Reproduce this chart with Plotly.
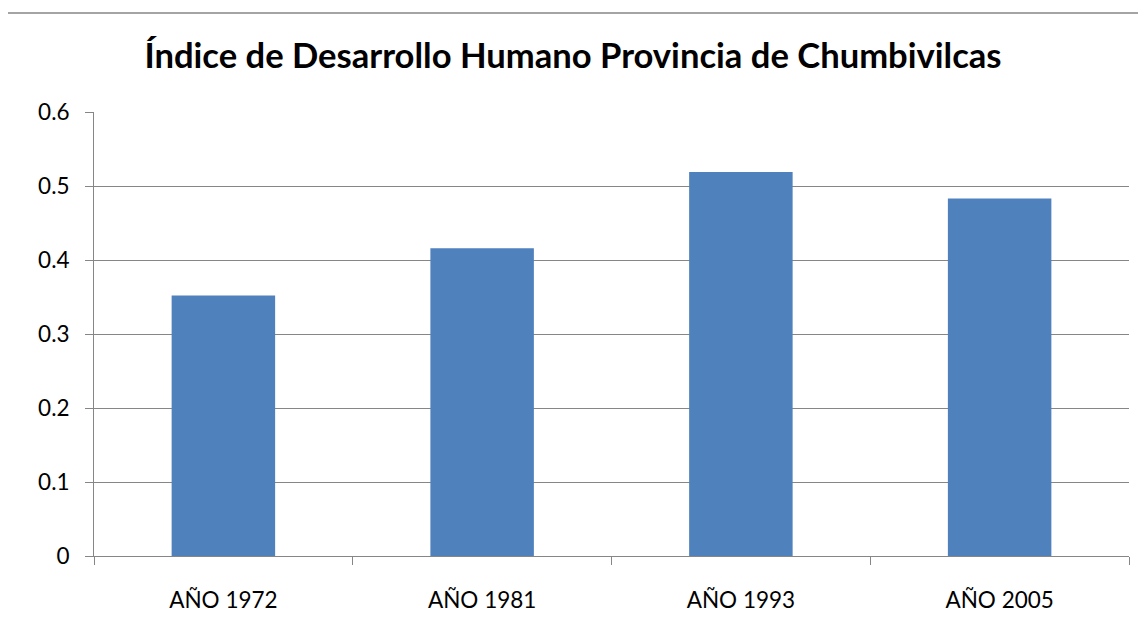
import plotly.graph_objects as go

categories = ["AÑO 1972", "AÑO 1981", "AÑO 1993", "AÑO 2005"]
idh_values = [0.352, 0.416, 0.519, 0.483]
y_tick_vals = [0, 0.1, 0.2, 0.3, 0.4, 0.5, 0.6]
y_tick_text = ["0", "0.1", "0.2", "0.3", "0.4", "0.5", "0.6"]
title_text = "Índice de Desarrollo Humano Provincia de Chumbivilcas"

# page body has an 8px margin, so the figure is drawn 8px in from the window edge
OFF = 8
W, H = 1146 - 2 * OFF, 635 - 2 * OFF
L, T = 86, 104
plot_right, plot_bottom = 1121, 548
R, B = W - plot_right, H - plot_bottom
pw, ph = W - L - R, H - T - B
gray = "#868686"

fig = go.Figure(go.Bar(x=categories, y=idh_values, marker=dict(color="#4F81BD", line=dict(width=0))))

# outer chart border: top edge only
def px_x(fx):
    return (fx - L) / pw

def px_y(fy):
    return (H - B - fy) / ph

top_y = px_y(13 - OFF)
fig.add_shape(type="line", xref="paper", yref="paper",
              x0=px_x(0), x1=px_x(W), y0=top_y, y1=top_y,
              line=dict(color=gray, width=1.5))

fig.update_layout(
    width=W, height=H,
    margin=dict(l=L, r=R, t=T, b=B),
    paper_bgcolor="white", plot_bgcolor="white",
    bargap=0.6,
    showlegend=False,
    title=dict(text="<b>" + title_text + "</b>", x=(573 - OFF) / W, xanchor="center", xref="container",
               y=1 - 48 / H, yanchor="middle",
               font=dict(family="Lato", size=34.6, color="black")),
    font=dict(family="Lato", size=22, color="black"),
    xaxis=dict(showline=True, linecolor=gray, linewidth=1, ticks="outside", tickson="boundaries",
               ticklen=8, tickcolor=gray, tickwidth=1, showgrid=False, ticklabelstandoff=24,
               tickfont=dict(family="Lato", size=22.5, color="black")),
    yaxis=dict(range=[0, 0.6], tickvals=y_tick_vals, ticktext=y_tick_text,
               showline=True, linecolor=gray, linewidth=1, ticks="outside", ticklen=8,
               tickcolor=gray, tickwidth=1, showgrid=True, gridcolor=gray, gridwidth=1.2,
               zeroline=False, ticklabelstandoff=11,
               tickfont=dict(family="Lato", size=22.5, color="black")),
)

fig.write_html("out.html")
